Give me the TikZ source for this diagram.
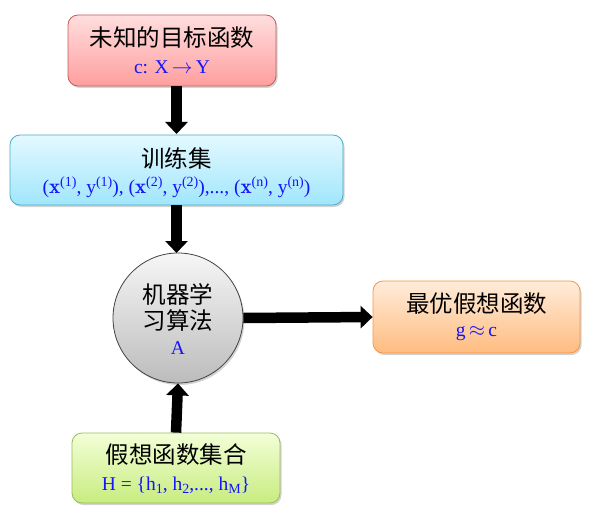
\documentclass[tikz,border=0pt]{standalone}
\usepackage{fontspec}
\newfontfamily\cjk{Noto Sans CJK SC}
\newfontfamily\lat{Liberation Serif}
\usetikzlibrary{shadows,arrows.meta}
\definecolor{redtop}{RGB}{255,222,222}
\definecolor{redbot}{RGB}{255,158,158}
\definecolor{redline}{RGB}{200,90,90}
\definecolor{cyantop}{RGB}{228,249,255}
\definecolor{cyanbot}{RGB}{160,230,252}
\definecolor{cyanline}{RGB}{75,172,198}
\definecolor{orgtop}{RGB}{255,236,218}
\definecolor{orgbot}{RGB}{255,188,128}
\definecolor{orgline}{RGB}{247,150,70}
\definecolor{grntop}{RGB}{242,255,215}
\definecolor{grnbot}{RGB}{200,236,128}
\definecolor{grnline}{RGB}{155,187,89}
\definecolor{gratop}{RGB}{246,246,246}
\definecolor{grabot}{RGB}{188,188,188}
\definecolor{txtblue}{RGB}{20,20,255}
\tikzset{
  box/.style={rounded corners=10pt, draw, line width=0.8pt, align=center,
    inner sep=0pt, drop shadow={shadow xshift=1.5pt, shadow yshift=-2pt, opacity=0.35}},
  redbox/.style={box, top color=redtop, bottom color=redbot, draw=redline},
  cyanbox/.style={box, top color=cyantop, bottom color=cyanbot, draw=cyanline},
  orgbox/.style={box, top color=orgtop, bottom color=orgbot, draw=orgline},
  grnbox/.style={box, top color=grntop, bottom color=grnbot, draw=grnline},
  algcircle/.style={circle, draw=black!75, line width=0.8pt, top color=gratop, bottom color=grabot,
    minimum size=130pt, inner sep=0pt, align=center,
    drop shadow={shadow xshift=1.5pt, shadow yshift=-2pt, opacity=0.35}},
  title/.style={font=\cjk\fontsize{23.5}{26}\selectfont},
  sub/.style={text=txtblue, font=\lat\fontsize{19.5}{22}\selectfont},
  bigarrow/.style={line width=10.5pt, -{Triangle[width=22pt,length=12pt]}},
}
\newcommand{\sps}[1]{\raisebox{0.75ex}{\fontsize{14}{14}\selectfont #1}}
\newcommand{\sbs}[1]{\raisebox{-0.35ex}{\fontsize{14}{14}\selectfont #1}}
\newcommand{\bx}{{\fontsize{21}{22}\selectfont$\mathbf{x}$}}
\begin{document}
\begin{tikzpicture}[x=1pt,y=-1pt]
\useasboundingbox (0,0) rectangle (601,521);
\node[redbox, minimum width=208pt, minimum height=71pt] (f) at (172,50.5) {};
\node[title] (ft) at (172,38) {未知的目标函数};
\node[sub] (fs) at (172,67) {c: X\,$\rightarrow$\,Y};

\node[cyanbox, minimum width=333pt, minimum height=70pt] (d) at (176.5,170) {};
\node[title] (dt) at (176.5,158) {训练集};
\node[sub] (ds) at (176.5,187) {(\bx\sps{(1)}, y\sps{(1)}), (\bx\sps{(2)}, y\sps{(2)}),..., (\bx\sps{(n)}, y\sps{(n)})};

\node[algcircle] (a) at (178,318) {};
\node[title] (at1) at (178,294) {机器学};
\node[title] (at2) at (178,321) {习算法};
\node[sub] (as) at (178,348) {A};

\node[orgbox, minimum width=207pt, minimum height=72pt] (g) at (476.5,317) {};
\node[title] (gt) at (476.5,304) {最优假想函数};
\node[sub] (gs) at (476.5,334) {g\,$\approx$\,c};

\node[grnbox, minimum width=208pt, minimum height=70pt] (h) at (176,468) {};
\node[title] (ht) at (176,455) {假想函数集合};
\node[sub] (hs) at (176,485) {H = \{h\sbs{1}, h\sbs{2},..., h\sbs{M}\}};

\draw[bigarrow] (176.5,86) coordinate (f1) -- (176.5,134) coordinate (d1);
\draw[bigarrow] (176.5,205) coordinate (d2) -- (176.5,253) coordinate (a1);
\draw[bigarrow] (a.east) -- (g.west);
\draw[bigarrow] (h.north) -- (a.south);
\end{tikzpicture}
\end{document}
